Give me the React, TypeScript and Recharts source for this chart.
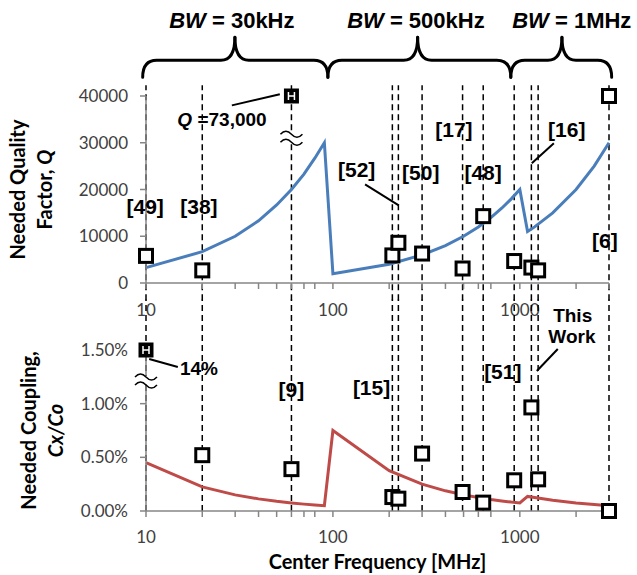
import {
  ComposedChart,
  Line,
  ReferenceArea,
  ReferenceDot,
  ReferenceLine,
  Scatter,
  XAxis,
  YAxis,
} from 'recharts';

// axis ticks
const freqTicks = [10, 20, 30, 40, 50, 60, 70, 80, 90, 100, 200, 300, 400, 500, 600, 700, 800, 900, 1000, 2000, 3000];
const labelledFreqs = [10, 100, 1000];
const qTicks = [0, 10000, 20000, 30000, 40000];
const cTicks = [0, 0.5, 1, 1.5];

// needed Q and needed coupling (%) vs. center frequency (MHz)
const curveFreq = [10, 20, 30, 40, 50, 60, 70, 80, 90, 100, 200, 300, 400, 500, 600, 700, 800, 900, 1000, 1100, 1200, 1500, 2000, 2500, 3000];
const qCurve = [3300, 6700, 10000, 13300, 16700, 20000, 23300, 26700, 30000, 2000, 4000, 6000, 8000, 10000, 12000, 14000, 16000, 18000, 20000, 11000, 12000, 15000, 20000, 25000, 30000];
const cCurve = [0.45, 0.225, 0.15, 0.113, 0.09, 0.075, 0.064, 0.056, 0.05, 0.75, 0.375, 0.25, 0.188, 0.15, 0.125, 0.107, 0.094, 0.083, 0.075, 0.136, 0.125, 0.1, 0.075, 0.06, 0.05];

// published resonators (one dashed line each)
const workFreq = [10, 20, 60, 208, 224, 300, 494, 637, 933, 1153, 1253, 3000];
const qWork = [5800, 2700, null, 5900, 8600, 6300, 3100, 14300, 4700, 3300, 2700, 40000];
const cWork = [null, 0.52, 0.39, 0.13, 0.115, 0.535, 0.177, 0.078, 0.286, 0.965, 0.295, 0];
// off the scale, drawn at the top of the axis with a break mark
const qBreakFreq = [60]; // Q = 73,000
const cBreakFreq = [10]; // 14%

const Q_MAX = 40000;
const C_MAX = 1.5;

const qCurveData = curveFreq.map((f, i) => ({ f, q: qCurve[i] }));
const cCurveData = curveFreq.map((f, i) => ({ f, c: cCurve[i] }));
const qMarkers = workFreq.map((f, i) => ({ f, q: qWork[i] })).filter((d) => d.q !== null);
const cMarkers = workFreq.map((f, i) => ({ f, c: cWork[i] })).filter((d) => d.c !== null);
const qBreaks = qBreakFreq.map((f) => ({ f, q: Q_MAX }));
const cBreaks = cBreakFreq.map((f) => ({ f, c: C_MAX }));

// annotations (data coordinates)
const braces = [
  { from: 9.6, tip: 29.9, to: 94, text: ' = 30kHz', tx: 28.8 },
  { from: 94, tip: 284, to: 895, text: ' = 500kHz', tx: 278 },
  { from: 895, tip: 1680, to: 3100, text: ' = 1MHz', tx: 1897 },
];
const topLabels = [
  { f: 9.9, q: 16300, text: '[49]' },
  { f: 19.2, q: 16300, text: '[38]' },
  { f: 134, q: 24300, text: '[52]' },
  { f: 295, q: 23500, text: '[50]' },
  { f: 444, q: 32700, text: '[17]' },
  { f: 636, q: 23500, text: '[48]' },
  { f: 1783, q: 32700, text: '[16]' },
  { f: 2852, q: 9100, text: '[6]' },
];
const topLeaders = [
  { f1: 28.8, q1: 38000, f2: 52, q2: 40360 },
  { f1: 148.6, q1: 21100, f2: 225, q2: 16600 },
  { f1: 1521, q1: 29900, f2: 1159, q2: 25600 },
];
const bottomLabels = [
  { f: 19.2, c: 1.332, text: '14%' },
  { f: 60, c: 1.127, text: '[9]' },
  { f: 161, c: 1.145, text: '[15]' },
  { f: 811, c: 1.295, text: '[51]' },
  { f: 1918, c: 1.827, text: 'This' },
  { f: 1900, c: 1.631, text: 'Work' },
];
const bottomLeaders = [
  { f1: 10.4, c1: 1.416, f2: 14.8, c2: 1.341 },
  { f1: 1596, c1: 1.509, f2: 1233, c2: 1.304 },
];

const AXIS = '#868686';
const TICK = { fill: '#404040', fontSize: 17, fontFamily: 'Lato' };
const ANNO_FONT = '"Liberation Sans", Arial, sans-serif';

const Square = (p: any) => (
  <rect x={p.cx - 6.5} y={p.cy - 6.5} width={13} height={13} fill="#fff" stroke="#000" strokeWidth={3} />
);

const BreakSquare = (p: any) => (
  <g>
    <rect x={p.cx - 7.5} y={p.cy - 7.5} width={15} height={15} fill="#000" />
    <path d={`M${p.cx - 3},${p.cy - 4}v8M${p.cx + 3},${p.cy - 4}v8M${p.cx - 3},${p.cy}h6`} stroke="#fff" strokeWidth={1.5} />
  </g>
);

const Squiggle = (p: any) => (
  <g fill="none" stroke="#000" strokeWidth={1.5}>
    <rect x={p.cx - 3} y={p.cy - 4} width={6} height={8} fill="#fff" stroke="none" />
    <path d={`M${p.cx - 11},${p.cy - 3}q5.5,-6 11,0t11,0`} />
    <path d={`M${p.cx - 11},${p.cy + 5}q5.5,-6 11,0t11,0`} />
  </g>
);

const labelShape = (text: React.ReactNode, size = 21) => (p: any) => (
  <text x={p.cx} y={p.cy} dy="0.35em" textAnchor="middle" fontFamily={ANNO_FONT} fontWeight="bold" fontSize={size} fill="#000">
    {text}
  </text>
);

// half of a curly brace; tipRight: the tip is on the right side of the box
const halfBrace = (tipRight: boolean) => (p: any) => {
  const { x, y, width: w, height: h } = p;
  const r = 14;
  const yM = y + h * 0.575;
  const yB = y + h;
  const d = tipRight
    ? `M${x},${yB}Q${x},${yM} ${x + r},${yM}L${x + w - r},${yM}Q${x + w},${yM} ${x + w},${y}`
    : `M${x},${y}Q${x},${yM} ${x + r},${yM}L${x + w - r},${yM}Q${x + w},${yM} ${x + w},${yB}`;
  return <path d={d} fill="none" stroke="#000" strokeWidth={3} strokeLinecap="round" />;
};

const xTickFormat = (v: number) => (labelledFreqs.includes(v) ? String(v) : '');

function TitleY({ viewBox, lines, xs }: any) {
  const cy = viewBox.y + viewBox.height / 2;
  return (
    <g>
      {lines.map((l: React.ReactNode, i: number) => (
        <text key={i} x={xs[i]} y={cy} transform={`rotate(-90 ${xs[i]} ${cy})`} textAnchor="middle" fontFamily="Lato" fontWeight="bold" fontSize={20} fill="#000">
          {l}
        </text>
      ))}
    </g>
  );
}

function QChart() {
  return (
    <ComposedChart width={637} height={325} margin={{ top: 96, right: 28, bottom: 0, left: 0 }}>
      <XAxis
        dataKey="f"
        type="number"
        scale="log"
        domain={[10, 3000]}
        ticks={freqTicks}
        tickFormatter={xTickFormat}
        tick={TICK}
        tickMargin={15}
        height={42}
        stroke={AXIS}
        strokeWidth={1.5}
      />
      <YAxis
        type="number"
        domain={[0, Q_MAX]}
        ticks={qTicks}
        tick={TICK}
        tickMargin={12}
        width={146}
        stroke={AXIS}
        strokeWidth={1.5}
        label={{ content: (p: any) => <TitleY {...p} lines={['Needed Quality', <>Factor, <tspan fontStyle="italic">Q</tspan></>]} xs={[25, 52]} /> }}
      />
      {workFreq.map((f) => (
        <ReferenceLine key={f} segment={[{ x: f, y: -3700 }, { x: f, y: 42300 }]} ifOverflow="visible" stroke="#000" strokeWidth={1.5} strokeDasharray="6 4" />
      ))}
      {braces.map((b) => [
        <ReferenceArea key={`l${b.tip}`} x1={b.from} x2={b.tip} y1={44000} y2={52560} ifOverflow="visible" shape={halfBrace(true)} />,
        <ReferenceArea key={`r${b.tip}`} x1={b.tip} x2={b.to} y1={44000} y2={52560} ifOverflow="visible" shape={halfBrace(false)} />,
        <ReferenceDot key={`t${b.tip}`} x={b.tx} y={56200} ifOverflow="visible" shape={labelShape(<><tspan fontStyle="italic">BW</tspan>{b.text}</>, 22)} />,
      ])}
      {topLeaders.map((s, i) => (
        <ReferenceLine key={`ld${i}`} segment={[{ x: s.f1, y: s.q1 }, { x: s.f2, y: s.q2 }]} ifOverflow="visible" stroke="#000" strokeWidth={2} />
      ))}
      <Line data={qCurveData} dataKey="q" type="linear" stroke="#4a7ebb" strokeWidth={3} dot={false} isAnimationActive={false} />
      <Scatter data={qMarkers} dataKey="q" shape={Square} isAnimationActive={false} />
      <Scatter data={qBreaks} dataKey="q" shape={BreakSquare} isAnimationActive={false} />
      <ReferenceDot x={60} y={31200} ifOverflow="visible" shape={Squiggle} />
      {topLabels.map((l) => (
        <ReferenceDot key={l.text} x={l.f} y={l.q} ifOverflow="visible" shape={labelShape(l.text)} />
      ))}
      <ReferenceDot x={25.5} y={34950} ifOverflow="visible" shape={labelShape(<><tspan fontStyle="italic">Q</tspan> =73,000</>, 19)} />
    </ComposedChart>
  );
}

function CouplingChart() {
  return (
    <ComposedChart width={637} height={285} margin={{ top: 60, right: 28, bottom: 0, left: 0 }}>
      <XAxis
        dataKey="f"
        type="number"
        scale="log"
        domain={[10, 3000]}
        ticks={freqTicks}
        tickFormatter={xTickFormat}
        tick={TICK}
        tickMargin={14}
        height={64}
        stroke={AXIS}
        strokeWidth={1.5}
        label={{ value: 'Center Frequency [MHz]', position: 'insideBottom', offset: 6, style: { fontFamily: 'Lato', fontWeight: 'bold', fontSize: 20, fill: '#000' } }}
      />
      <YAxis
        type="number"
        domain={[0, C_MAX]}
        ticks={cTicks}
        tickFormatter={(v: number) => `${v.toFixed(2)}%`}
        tick={TICK}
        tickMargin={12}
        width={146}
        stroke={AXIS}
        strokeWidth={1.5}
        label={{ content: (p: any) => <TitleY {...p} lines={['Needed Coupling,', <tspan fontStyle="italic">Cx/Co</tspan>]} xs={[36, 63]} /> }}
      />
      {workFreq.map((f) => (
        <ReferenceLine key={f} segment={[{ x: f, y: 0 }, { x: f, y: 1.97 }]} ifOverflow="visible" stroke="#000" strokeWidth={1.5} strokeDasharray="6 4" />
      ))}
      {bottomLeaders.map((s, i) => (
        <ReferenceLine key={`ld${i}`} segment={[{ x: s.f1, y: s.c1 }, { x: s.f2, y: s.c2 }]} ifOverflow="visible" stroke="#000" strokeWidth={2} />
      ))}
      <Line data={cCurveData} dataKey="c" type="linear" stroke="#be4b48" strokeWidth={3} dot={false} isAnimationActive={false} />
      <Scatter data={cMarkers} dataKey="c" shape={Square} isAnimationActive={false} />
      <Scatter data={cBreaks} dataKey="c" shape={BreakSquare} isAnimationActive={false} />
      <ReferenceDot x={10} y={1.22} ifOverflow="visible" shape={Squiggle} />
      {bottomLabels.map((l) => (
        <ReferenceDot key={l.text} x={l.f} y={l.c} ifOverflow="visible" shape={labelShape(l.text, l.text.startsWith('[') ? 21 : 19)} />
      ))}
    </ComposedChart>
  );
}

export default function App() {
  return (
    <div style={{ position: 'absolute', left: 0, top: 0, width: 637, height: 575, background: '#fff', fontFamily: 'Lato' }}>
      <div style={{ position: 'absolute', left: 0, top: 0 }}>
        <QChart />
      </div>
      <div style={{ position: 'absolute', left: 0, top: 290 }}>
        <CouplingChart />
      </div>
    </div>
  );
}
